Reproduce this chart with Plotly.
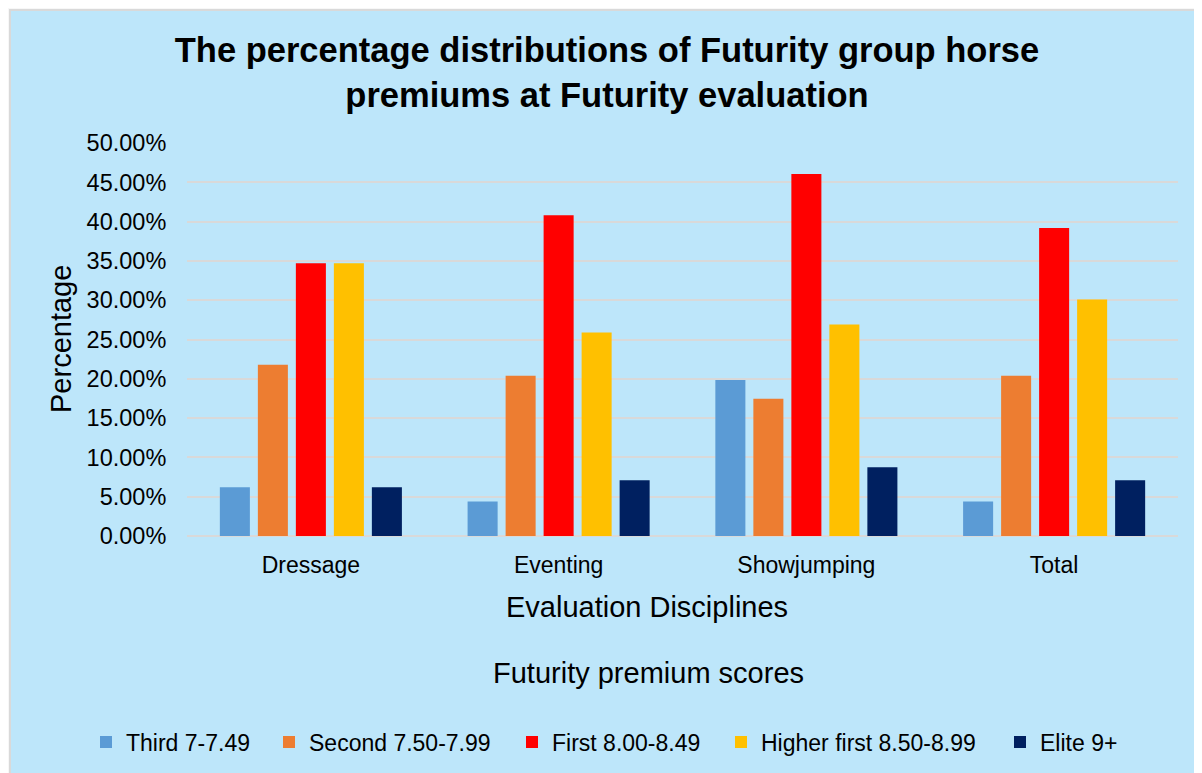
import plotly.graph_objects as go

categories = ["Dressage", "Eventing", "Showjumping", "Total"]
series_names = ["Third 7-7.49", "Second 7.50-7.99", "First 8.00-8.49",
                "Higher first 8.50-8.99", "Elite 9+"]
third = [6.2, 4.4, 19.85, 4.4]
second = [21.8, 20.4, 17.45, 20.4]
first = [34.7, 40.8, 46.05, 39.2]
higher_first = [34.7, 25.9, 26.9, 30.1]
elite = [6.2, 7.1, 8.75, 7.1]
colors = ["#5B9BD5", "#ED7D31", "#FF0000", "#FFC000", "#002060"]
y_ticks = [0, 5, 10, 15, 20, 25, 30, 35, 40, 45, 50]
y_ticklabels = [f"{v:.2f}%" for v in y_ticks]

OFF = 8  # browser body margin
W, H = 1202 - OFF, 773 - OFF
L, R, T, B = 187 - OFF, 1194 - (1178 - OFF), 143 - OFF, 765 - (536 - OFF)
plot_w = W - L - R
plot_h = H - T - B


def px_x(p):
    return (p - OFF - L) / plot_w


def px_y(p):
    return (H - B - (p - OFF)) / plot_h


FONT = "Liberation Sans, Arial, sans-serif"

# screen x where each legend entry's text should start
legend_text_x = [126, 309, 552, 761, 1040]

fig = go.Figure()
for i, (name, vals, col) in enumerate(zip(series_names, [third, second, first, higher_first, elite], colors)):
    fig.add_trace(go.Bar(x=categories, y=vals, name=name,
                         legend="legend" if i == 0 else f"legend{i + 1}",
                         marker=dict(color=col, line=dict(width=0))))

fig.add_shape(type="rect", xref="paper", yref="paper",
              x0=px_x(10), x1=px_x(1215), y0=px_y(790), y1=px_y(10),
              fillcolor="#BDE6FA", line=dict(color="#D9D9D9", width=2),
              layer="below")

legends = {}
for i, tx in enumerate(legend_text_x):
    key = "legend" if i == 0 else f"legend{i + 1}"
    legends[key] = dict(orientation="h", x=px_x(tx - 40), xanchor="left",
                        y=px_y(742), yanchor="middle", font=dict(size=23),
                        bgcolor="rgba(0,0,0,0)", itemclick=False,
                        borderwidth=0)

fig.update_layout(
    width=W, height=H,
    margin=dict(l=L, r=R, t=T, b=B, autoexpand=False),
    paper_bgcolor="#F7F7F7",
    plot_bgcolor="rgba(0,0,0,0)",
    font=dict(family=FONT, color="#000000"),
    barmode="group", bargap=0.233, bargroupgap=0.21,
    title=dict(text="<b>The percentage distributions of Futurity group horse<br>premiums at Futurity evaluation</b>",
               x=(607 - OFF) / W, xanchor="center", y=1 - (62 - OFF) / H, yanchor="middle",
               font=dict(size=34.5, family=FONT, color="#000000")),
    xaxis=dict(showgrid=False, showline=False, ticks="outside", ticklen=8,
               tickcolor="rgba(0,0,0,0)", tickangle=0,
               tickfont=dict(size=23), automargin=False),
    yaxis=dict(range=[0, 50], tickvals=y_ticks, ticktext=y_ticklabels,
               showgrid=True, gridcolor="#D9D9D9", gridwidth=2,
               zeroline=True, zerolinecolor="#D9D9D9", zerolinewidth=2,
               showline=False, ticks="outside", ticklen=15, tickcolor="rgba(0,0,0,0)",
               tickfont=dict(size=23.5), automargin=False),
    showlegend=True,
    annotations=[
        dict(text="Evaluation Disciplines", x=px_x(647), y=px_y(607), xref="paper", yref="paper",
             showarrow=False, font=dict(size=29), xanchor="center", yanchor="middle"),
        dict(text="Futurity premium scores", x=px_x(648), y=px_y(673), xref="paper", yref="paper",
             showarrow=False, font=dict(size=29), xanchor="center", yanchor="middle"),
        dict(text="Percentage", x=px_x(61), y=px_y(339), xref="paper", yref="paper",
             showarrow=False, font=dict(size=29), textangle=-90, xanchor="center", yanchor="middle"),
    ],
    **legends,
)

fig.write_html("out.html")
